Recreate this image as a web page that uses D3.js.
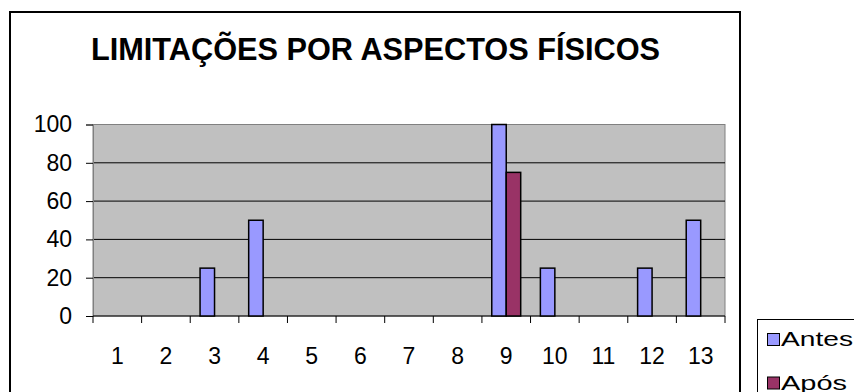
<!DOCTYPE html>
<html>
<head>
<meta charset="utf-8">
<script src="https://cdn.jsdelivr.net/npm/d3@7"></script>
<style>
  html, body { margin: 0; padding: 0; background: #fff; }
  svg { display: block; }
  text { font-family: "Liberation Sans", Arial, sans-serif; }
</style>
</head>
<body>
<svg id="chart" width="854" height="392"></svg>
<script>
// Data
const categories = ["1","2","3","4","5","6","7","8","9","10","11","12","13"];
const antes = [0, 0, 25, 50, 0, 0, 0, 0, 100, 25, 0, 25, 50];
const apos  = [0, 0, 0, 0, 0, 0, 0, 0, 75, 0, 0, 0, 0];
const yTicks = [0, 20, 40, 60, 80, 100];
const seriesNames = ["Antes", "Após"];
const seriesColors = ["#9999ff", "#993366"];
const title = "LIMITAÇÕES POR ASPECTOS FÍSICOS";

const svg = d3.select("#chart");

// Outer chart frame
svg.append("rect")
  .attr("x", 10).attr("y", 12)
  .attr("width", 730).attr("height", 400)
  .attr("fill", "#fff").attr("stroke", "#000").attr("stroke-width", 2);

// Title
svg.append("text")
  .attr("x", 375.5).attr("y", 60)
  .attr("text-anchor", "middle")
  .attr("font-size", 31).attr("font-weight", "bold")
  .attr("fill", "#000")
  .attr("textLength", 569).attr("lengthAdjust", "spacingAndGlyphs")
  .text(title);

// Plot area
const plot = { left: 93, right: 725, top: 124.5, bottom: 316 };

const x = d3.scaleBand()
  .domain(categories)
  .range([plot.left, plot.right])
  .paddingInner(0).paddingOuter(0);

const y = d3.scaleLinear()
  .domain([0, 100])
  .range([plot.bottom, plot.top]);

const inner = d3.scaleBand()
  .domain(seriesNames)
  .range([0, x.bandwidth()])
  .paddingOuter(0.68).paddingInner(0);

svg.append("rect")
  .attr("x", plot.left).attr("y", plot.top)
  .attr("width", plot.right - plot.left).attr("height", plot.bottom - plot.top)
  .attr("fill", "#c0c0c0").attr("stroke", "#808080").attr("stroke-width", 1);

// Gridlines
svg.append("g")
  .selectAll("line")
  .data(yTicks.filter(d => d > 0 && d < 100))
  .join("line")
  .attr("x1", plot.left).attr("x2", plot.right)
  .attr("y1", d => y(d)).attr("y2", d => y(d))
  .attr("stroke", "#000").attr("stroke-width", 1);

// Y axis
const yAxis = svg.append("g")
  .attr("transform", `translate(${plot.left},0)`)
  .call(d3.axisLeft(y).tickValues(yTicks).tickSize(7).tickPadding(14));
yAxis.select(".domain").attr("stroke", "#808080");
yAxis.selectAll(".tick line").attr("stroke", "#000");
yAxis.selectAll("text")
  .attr("font-size", 23).attr("fill", "#000")
  .attr("font-family", "Liberation Sans, Arial, sans-serif");

// X axis: ticks at category boundaries, labels centered
const xAxisG = svg.append("g").attr("transform", `translate(0,${plot.bottom})`);
xAxisG.append("line")
  .attr("x1", plot.left).attr("x2", plot.right)
  .attr("y1", 0).attr("y2", 0)
  .attr("stroke", "#000");
const boundaries = categories.map(c => x(c)).concat([x(categories[categories.length - 1]) + x.bandwidth()]);
xAxisG.selectAll("line.tk")
  .data(boundaries)
  .join("line").attr("class", "tk")
  .attr("x1", d => d).attr("x2", d => d)
  .attr("y1", 0).attr("y2", 7)
  .attr("stroke", "#000");
xAxisG.selectAll("text")
  .data(categories)
  .join("text")
  .attr("x", d => x(d) + x.bandwidth() / 2)
  .attr("y", 48)
  .attr("text-anchor", "middle")
  .attr("font-size", 23).attr("fill", "#000")
  .text(d => d);

// Bars
const series = [antes, apos];
series.forEach((vals, si) => {
  svg.append("g")
    .selectAll("rect")
    .data(vals.map((v, i) => ({ cat: categories[i], v })).filter(d => d.v > 0))
    .join("rect")
    .attr("x", d => x(d.cat) + inner(seriesNames[si]))
    .attr("y", d => y(d.v))
    .attr("width", inner.bandwidth())
    .attr("height", d => y(0) - y(d.v))
    .attr("fill", seriesColors[si])
    .attr("stroke", "#000").attr("stroke-width", 1.5);
});

// Legend
const legend = svg.append("g");
legend.append("rect")
  .attr("x", 757.5).attr("y", 319.5)
  .attr("width", 120).attr("height", 100)
  .attr("fill", "#fff").attr("stroke", "#000").attr("stroke-width", 1);
const legendWidths = [72, 66];
seriesNames.forEach((name, i) => {
  const yy = 333 + i * 43.5;
  legend.append("rect")
    .attr("x", 767.5).attr("y", yy + 0.5)
    .attr("width", 12).attr("height", 12)
    .attr("fill", seriesColors[i]).attr("stroke", "#000").attr("stroke-width", 1);
  legend.append("text")
    .attr("x", 781).attr("y", yy + 13)
    .attr("font-size", 19.5).attr("fill", "#000")
    .attr("font-family", "DejaVu Sans, sans-serif")
    .attr("textLength", legendWidths[i]).attr("lengthAdjust", "spacingAndGlyphs")
    .text(name);
});
</script>
</body>
</html>
